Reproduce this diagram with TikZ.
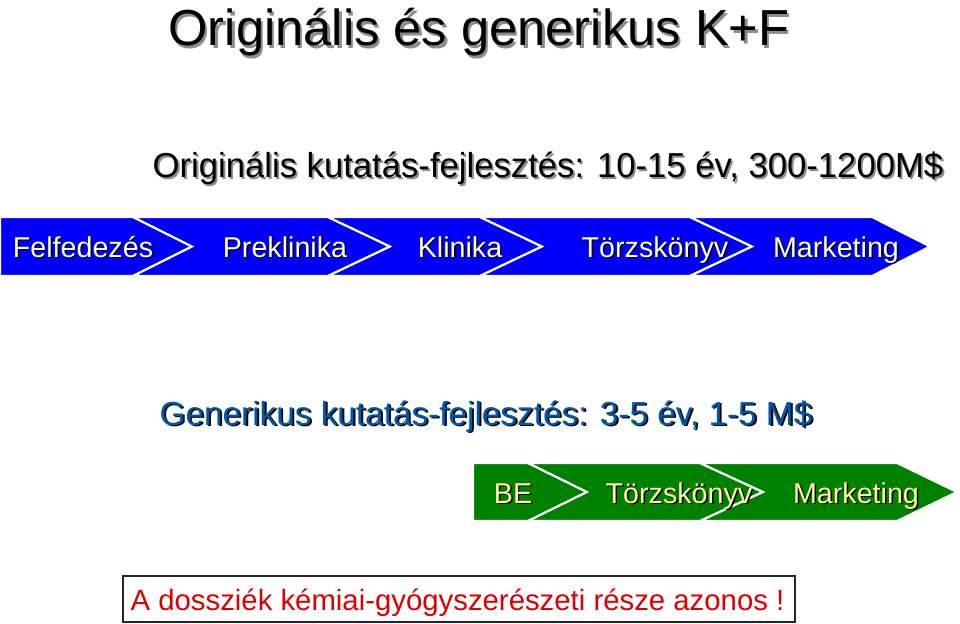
\documentclass[tikz,border=0pt]{standalone}
\usepackage{fontspec}
\setmainfont{Liberation Sans}
\definecolor{cblue}{RGB}{0,0,250}
\definecolor{cgreen}{RGB}{0,128,0}
\definecolor{cyel}{RGB}{255,255,160}
\definecolor{cgenblue}{RGB}{0,88,168}
\definecolor{cred}{RGB}{220,0,0}
% text with a drop shadow: #1 offset, #2 shadow colour, #3 text
\newcommand{\shadtxt}[3]{\makebox[0pt][l]{\hspace{#1}\raisebox{-#1}{\color{#2}#3}}#3}
\begin{document}
\begin{tikzpicture}[x=0.75pt,y=-0.75pt,
  chevb/.style={fill=cblue, draw=white, line width=1.6pt, line join=miter},
  chevg/.style={fill=cgreen, draw=white, line width=1.6pt, line join=miter},
  lbl/.style={anchor=base, inner sep=0pt, font=\fontsize{21.5}{24}\selectfont},
  ttl/.style={anchor=base, inner sep=0pt, font=\fontsize{38}{44}\selectfont},
  sub/.style={anchor=base, inner sep=0pt, font=\fontsize{26}{30}\selectfont},
  gsub/.style={anchor=base, inner sep=0pt, font=\fontsize{25}{30}\selectfont},
  note/.style={anchor=base, inner sep=0pt, font=\fontsize{22}{26}\selectfont, cred}]
\useasboundingbox (0,0) rectangle (960,624);

% title
\node[ttl, black] (title) at (479,46) {\shadtxt{1.8pt}{black!45}{Originális és generikus K+F}};

% original subtitle
\node[sub, black] (sub1) at (548,178) {\shadtxt{1.4pt}{black!45}{Originális kutatás-fejlesztés: 10-15 év, 300-1200M\$}};

% blue chevrons
\draw[chevb] (0,217) -- (133,217) -- (192,246.5) -- (133,276) -- (0,276) -- cycle;
\draw[chevb] (133,217) -- (328,217) -- (390,246.5) -- (328,276) -- (133,276) -- (192,246.5) -- cycle;
\draw[chevb] (328,217) -- (480,217) -- (542,246.5) -- (480,276) -- (328,276) -- (390,246.5) -- cycle;
\draw[chevb] (480,217) -- (690,217) -- (752,246.5) -- (690,276) -- (480,276) -- (542,246.5) -- cycle;
\draw[chevb] (690,217) -- (872,217) -- (930,246.5) -- (872,276) -- (690,276) -- (752,246.5) -- cycle;

\node[lbl, white] (b1) at (83,257) {\shadtxt{1.1pt}{black}{Felfedezés}};
\node[lbl, white] (b2) at (285,257) {\shadtxt{1.1pt}{black}{Preklinika}};
\node[lbl, white] (b3) at (460,257) {\shadtxt{1.1pt}{black}{Klinika}};
\node[lbl, white] (b4) at (655,257) {\shadtxt{1.1pt}{black}{Törzskönyv}};
\node[lbl, white] (b5) at (836,257) {\shadtxt{1.1pt}{black}{Marketing}};

% generic subtitle
\node[gsub, cgenblue] (sub2) at (486,425) {\shadtxt{1.4pt}{black}{Generikus kutatás-fejlesztés: 3-5 év, 1-5 M\$}};

% green chevrons
\draw[chevg] (473,463) -- (528,463) -- (587,492) -- (528,521) -- (473,521) -- cycle;
\draw[chevg] (528,463) -- (700,463) -- (763,492) -- (700,521) -- (528,521) -- (587,492) -- cycle;
\draw[chevg] (700,463) -- (897,463) -- (957,492) -- (897,521) -- (700,521) -- (763,492) -- cycle;

\node[lbl, cyel] (g1) at (513,503) {\shadtxt{1.1pt}{black}{BE}};
\node[lbl, cyel] (g2) at (679,503) {\shadtxt{1.1pt}{black}{Törzskönyv}};
\node[lbl, cyel] (g3) at (856,503) {\shadtxt{1.1pt}{black}{Marketing}};

% bottom note
\node[draw=black!85, line width=1.1pt, minimum width=504pt, minimum height=34.5pt, inner sep=0pt] (box) at (459,599) {};
\node[note] (notetxt) at (457.5,610) {A dossziék kémiai-gyógyszerészeti része azonos !};
\end{tikzpicture}
\end{document}
